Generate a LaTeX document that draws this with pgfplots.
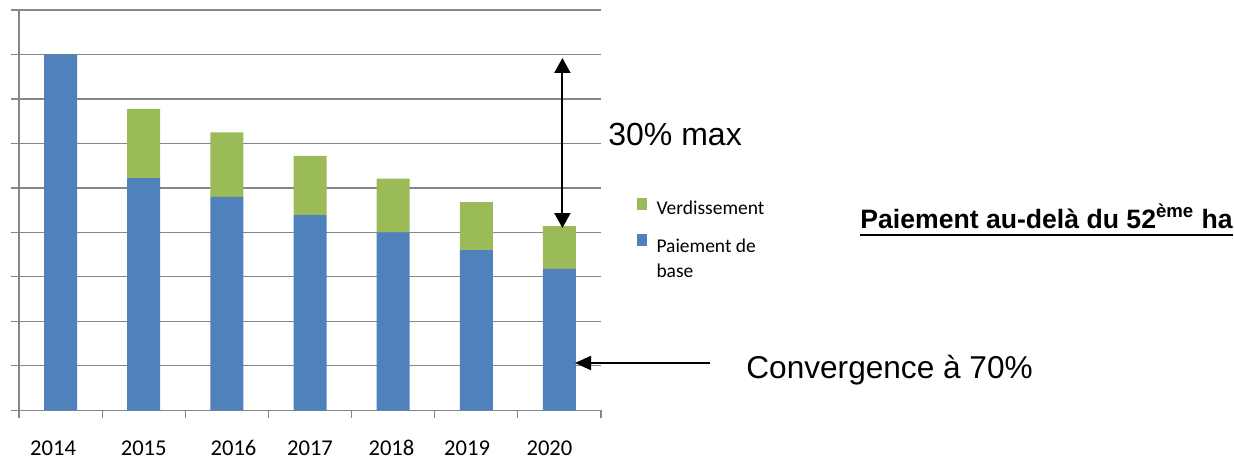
\documentclass[border=0pt]{standalone}
\usepackage{pgfplots}
\pgfplotsset{compat=1.18}
\usepackage{fontspec}
\setmainfont{Carlito}
\newfontfamily\arial{Liberation Sans}
\usetikzlibrary{arrows.meta}
\definecolor{pblue}{HTML}{4F81BD}
\definecolor{pgreen}{HTML}{9BBB59}
\definecolor{gridc}{RGB}{134,134,134}
\begin{document}
\begin{tikzpicture}
\useasboundingbox (0,0) rectangle (617pt,230.5pt);
\begin{axis}[
  at={(9.5pt,25.35pt)}, anchor=south west,
  scale only axis, width=291pt, height=200.15pt,
  xmin=-0.5, xmax=6.5, ymin=0, ymax=9,
  ybar stacked, bar width=16.5pt,
  axis x line*=bottom, axis y line*=left,
  axis line style={gridc, line width=0.6pt, -},
  tick align=outside, major tick length=3.75pt,
  tick style={gridc, line width=0.6pt},
  xtick={-0.5,0.5,...,6.5}, xticklabels={},
  extra x ticks={-0.09,1,2.08,3,3.98,4.89,5.88},
  extra x tick labels={2014,2015,2016,2017,2018,2019,2020},
  extra x tick style={major tick length=0pt, grid=none,
     xticklabel style={yshift=-11.5pt}},
  xticklabel style={font=\fontsize{11.3}{13}\selectfont},
  ytick={0,...,9}, yticklabels={},
  ymajorgrids, major grid style={gridc, line width=0.6pt},
  legend style={at={(1.05,0.545)}, anchor=north west, draw=none, fill=none,
     font=\fontsize{9.75}{12.5}\selectfont, row sep=5pt, column sep=3pt},
  legend cell align=left, reverse legend,
  legend image code/.code={\draw[#1,draw=none,/tikz/.cd] (0pt,-0.5pt) rectangle (5pt,5.5pt);},
]
\addplot[fill=pblue, draw=none] coordinates {(0,8) (1,5.22) (2,4.80) (3,4.39) (4,4.00) (5,3.60) (6,3.18)};
\addlegendentry{\begin{tabular}[t]{@{}l@{}}Paiement de\\base\end{tabular}}
\addplot[fill=pgreen, draw=none] coordinates {(0,0) (1,1.56) (2,1.45) (3,1.33) (4,1.21) (5,1.08) (6,0.96)};
\addlegendentry{Verdissement}
\end{axis}
\draw[line width=1pt, {Triangle[length=7.5pt,width=8pt]}-{Triangle[length=7.5pt,width=8pt]}] (281.2pt,201.5pt) -- (281.2pt,116.5pt);
\draw[line width=1pt, -{Triangle[length=8pt,width=7pt]}] (355pt,49pt) -- (287.5pt,49pt);
\node[anchor=base west, inner sep=0, font=\arial\fontsize{16}{19}\selectfont] at (304pt,157.5pt) {30\% max};
\node[anchor=base west, inner sep=0, font=\arial\fontsize{15.8}{19}\selectfont] at (373pt,41.5pt) {Convergence à 70\%};
\node[anchor=base west, inner sep=0, font=\arial\bfseries\fontsize{13.3}{16}\selectfont] (pt) at (430pt,116.5pt) {Paiement au-delà du 52\textsuperscript{ème} ha};
\draw[line width=0.9pt] ([yshift=-3.3pt]pt.base west) -- ([yshift=-3.3pt]pt.base east);
\end{tikzpicture}
\end{document}
